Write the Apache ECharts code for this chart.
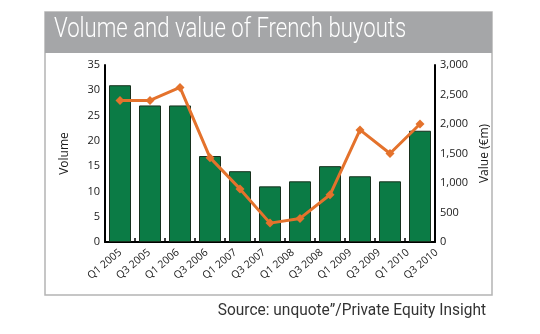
<!DOCTYPE html>
<html><head><meta charset="utf-8">
<script src="https://cdn.jsdelivr.net/npm/echarts@6/dist/echarts.min.js"></script>
<style>html,body{margin:0;padding:0;background:#fff}#c{width:540px;height:334px}</style>
</head><body><div id="c"></div>
<script>
const periods = ['P1','P2','P3','P4','P5','P6','P7','P8','P9','P10','P11'];
const tickLabels = ['Q1 2005','Q3 2005','Q1 2006','Q3 2006','Q1 2007','Q3 2007','Q1 2008','Q3 2008','Q1 2009','Q3 2009','Q1 2010','Q3 2010'];
const volume = [31, 27, 27, 17, 14, 11, 12, 15, 13, 12, 22];
const valueEm = [2400, 2400, 2620, 1430, 900, 320, 400, 800, 1900, 1500, 2000];

const chart = echarts.init(document.getElementById('c'));
const lblFont = {fontFamily: 'Open Sans', fontSize: 11, color: '#1a1a1a'};
chart.setOption({
  animation: false,
  graphic: [
    {type: 'rect', shape: {x: 45, y: 12, width: 447, height: 283}, style: {fill: '#fff', stroke: '#b4b4b4', lineWidth: 1.5}, z: -10},
    {type: 'rect', shape: {x: 45, y: 12, width: 447, height: 41}, style: {fill: '#a5a6a8'}, z: -9},
    {type: 'text', x: 54, y: 17, scaleX: 0.82, style: {text: 'Volume and value of French buyouts', fill: '#fff', font: '300 27px Roboto, sans-serif'}},
    {type: 'text', x: 486, y: 302, scaleX: 0.91, style: {text: 'Source: unquote\u201d/Private Equity Insight', fill: '#333', align: 'right', font: '17px Roboto, sans-serif'}}
  ],
  grid: [
    {left: 105, right: 105, top: 65, bottom: 92},
    {left: 106, width: 345, top: 65, bottom: 92}
  ],
  xAxis: [
    {type: 'category', data: periods, gridIndex: 0,
     axisLine: {lineStyle: {color: '#000', width: 2}},
     axisTick: {show: true, inside: true, length: 4, lineStyle: {color: '#000', width: 1.5}},
     axisLabel: {show: false}},
    {type: 'category', data: tickLabels, gridIndex: 1,
     axisLine: {show: false}, axisTick: {show: false},
     axisLabel: {rotate: 40, margin: 9, interval: 0, fontSize: 10.5, fontFamily: 'Open Sans', color: '#1a1a1a'}}
  ],
  yAxis: [
    {type: 'value', gridIndex: 0, min: 0, max: 35, interval: 5, name: 'Volume', nameLocation: 'middle', nameGap: 34, nameRotate: 90,
     nameTextStyle: {fontFamily: 'Open Sans', fontSize: 12, color: '#1a1a1a'},
     axisLine: {show: true, lineStyle: {color: '#000', width: 2}}, axisTick: {show: false}, splitLine: {show: false},
     axisLabel: Object.assign({margin: 5}, lblFont)},
    {type: 'value', gridIndex: 0, min: 0, max: 3000, interval: 500, position: 'right', name: 'Value (\u20acm)', nameLocation: 'middle', nameGap: 38, nameRotate: 90,
     nameTextStyle: {fontFamily: 'Open Sans', fontSize: 12, color: '#1a1a1a'},
     axisLine: {show: true, lineStyle: {color: '#000', width: 2}}, axisTick: {show: false}, splitLine: {show: false},
     axisLabel: Object.assign({margin: 5, formatter: v => v.toLocaleString('en-US')}, lblFont)},
    {type: 'value', gridIndex: 1, show: false}
  ],
  series: [
    {type: 'bar', xAxisIndex: 0, yAxisIndex: 0, data: volume, barWidth: 22,
     itemStyle: {color: '#0b7b45', borderColor: '#17301d', borderWidth: 1}},
    {type: 'line', xAxisIndex: 0, yAxisIndex: 1, data: valueEm, symbol: 'diamond', symbolSize: 9,
     lineStyle: {color: '#e4722c', width: 3}, itemStyle: {color: '#e4722c'}}
  ]
});
</script></body></html>
